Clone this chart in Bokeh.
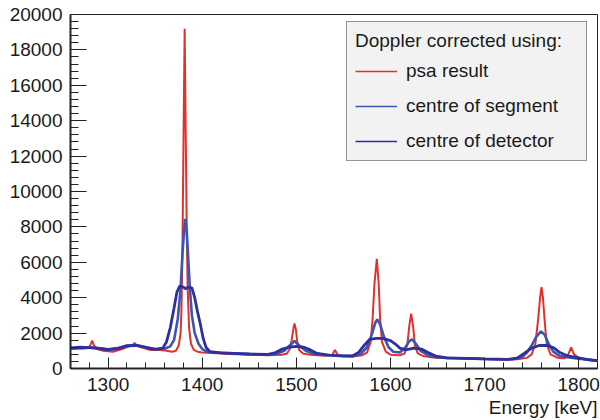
from bokeh.plotting import figure
from bokeh.models import Legend, LegendItem, Title, Range1d, SingleIntervalTicker
from bokeh.embed import file_html
from bokeh.resources import INLINE

# ---- data ----
psa_e = [1260, 1270, 1278, 1281, 1283, 1285, 1288, 1295, 1305, 1315, 1322, 1326, 1328, 1330, 1335,
         1345, 1355, 1362, 1368, 1372, 1375, 1377, 1378, 1379, 1380, 1381.3, 1382.5, 1383.5, 1384.5,
         1386, 1388, 1391, 1395, 1400, 1410, 1430, 1450, 1470, 1485, 1490, 1493, 1495, 1497, 1498,
         1499.5, 1501, 1503, 1507, 1515, 1530, 1538, 1541, 1544, 1550, 1560, 1570, 1575, 1579, 1581,
         1583, 1585.5, 1587.5, 1589, 1591, 1595, 1600, 1610, 1615, 1618, 1620, 1622, 1624, 1626, 1629,
         1635, 1645, 1660, 1670, 1675, 1690, 1700, 1720, 1735, 1745, 1750, 1754, 1757, 1759, 1760.5,
         1762, 1764, 1766, 1770, 1778, 1785, 1789, 1792, 1795, 1800, 1810, 1820]
psa_c = [1100, 1120, 1150, 1300, 1580, 1300, 1100, 1000, 950, 1100, 1250, 1300, 1450, 1280, 1200,
         1050, 1050, 1000, 950, 1000, 1300, 2000, 3500, 7000, 12500, 19200, 13000, 8000, 4500,
         2300, 1400, 1050, 950, 900, 870, 820, 780, 750, 780, 850, 1100, 1600, 2300, 2550,
         2200, 1500, 1050, 850, 780, 720, 760, 1050, 760, 700, 680, 750, 900, 1500, 2800,
         4800, 6200, 4800, 2800, 1500, 950, 780, 750, 850, 1400, 2400, 3100, 2400, 1300, 850,
         700, 620, 580, 600, 560, 590, 530, 500, 520, 600, 800, 1400, 2800, 4000, 4600,
         4000, 2600, 1400, 800, 600, 580, 800, 1200, 800, 600, 480, 420]

seg_e = [1260, 1270, 1280, 1290, 1300, 1310, 1320, 1330, 1340, 1350, 1360, 1366, 1370, 1374, 1377,
         1379, 1381, 1382, 1383.5, 1385, 1387, 1389, 1392, 1396, 1400, 1405, 1415, 1440, 1470, 1480,
         1487, 1493, 1498, 1503, 1510, 1518, 1530, 1545, 1560, 1568, 1575, 1580, 1584, 1586, 1589,
         1593, 1598, 1603, 1610, 1616, 1620, 1623, 1627, 1632, 1640, 1650, 1670, 1700, 1730, 1740,
         1745, 1750, 1755, 1760, 1764, 1768, 1773, 1780, 1790, 1800, 1810, 1820]
seg_c = [1150, 1170, 1200, 1150, 1080, 1150, 1300, 1330, 1200, 1100, 1120, 1250, 1600, 2800, 4500,
         6500, 8000, 8450, 7800, 6300, 4400, 3000, 2000, 1400, 1100, 950, 900, 830, 780, 850,
         1000, 1300, 1550, 1300, 1000, 850, 760, 730, 700, 800, 1200, 1900, 2600, 2780, 2500,
         1800, 1200, 950, 900, 1200, 1550, 1650, 1400, 1000, 750, 620, 580, 540, 520, 650,
         900, 1300, 1800, 2100, 1900, 1400, 950, 700, 620, 550, 500, 430]

det_e = [1260, 1270, 1280, 1290, 1300, 1310, 1320, 1330, 1340, 1350, 1358, 1362, 1366, 1370, 1373,
         1376, 1380, 1382, 1385, 1389, 1392, 1395, 1398, 1401, 1404, 1408, 1420, 1450, 1470, 1478,
         1485, 1492, 1500, 1508, 1515, 1522, 1535, 1550, 1560, 1566, 1572, 1578, 1585, 1592, 1600,
         1606, 1610, 1616, 1625, 1633, 1640, 1648, 1660, 1700, 1725, 1735, 1742, 1750, 1758, 1767,
         1774, 1780, 1788, 1800, 1810, 1820]
det_c = [1150, 1200, 1180, 1130, 1060, 1120, 1280, 1300, 1200, 1080, 1150, 1500, 2300, 3400, 4300,
         4650, 4600, 4500, 4600, 4550, 4000, 3200, 2500, 1700, 1200, 950, 880, 820, 800, 900,
         1100, 1200, 1250, 1200, 1050, 850, 750, 700, 720, 900, 1300, 1650, 1700, 1700, 1580,
         1350, 1150, 1050, 1150, 1100, 900, 700, 600, 540, 520, 600, 850, 1150, 1300, 1300,
         1150, 900, 720, 600, 500, 440]

series_labels = ["psa result", "centre of segment", "centre of detector"]
legend_title = "Doppler corrected using:"
x_label = "Energy [keV]"

RED = "#e2312b"
SEG = "#3b55b3"
DET = "#2f2f9d"
FONT = "Liberation Sans"

p = figure(width=600, height=420, output_backend="svg", toolbar_location=None,
           x_range=Range1d(1260, 1820), y_range=Range1d(0, 20000),
           min_border_left=70, min_border_right=3, min_border_top=14, min_border_bottom=52)
p.background_fill_color = "white"
p.border_fill_color = "white"
p.outline_line_color = "#222222"
p.outline_line_width = 1
p.xgrid.visible = False
p.ygrid.visible = False

r_psa = p.line(psa_e, psa_c, line_color=RED, line_width=2)
r_seg = p.line(seg_e, seg_c, line_color=SEG, line_width=2.6)
r_det = p.line(det_e, det_c, line_color=DET, line_width=2.8)

# thin legend proxies: a single-point line draws nothing in the plot
l_psa = p.line(psa_e[:1], psa_c[:1], line_color=RED, line_width=1.6)
l_seg = p.line(seg_e[:1], seg_c[:1], line_color=SEG, line_width=1.6)
l_det = p.line(det_e[:1], det_c[:1], line_color=DET, line_width=1.6)

for ax in (p.xaxis[0], p.yaxis[0]):
    ax.axis_line_color = "#222222"
    ax.axis_line_width = 2
    ax.major_tick_line_color = "#222222"
    ax.minor_tick_line_color = "#222222"
    ax.major_tick_out = 0
    ax.minor_tick_out = 0
    ax.major_label_text_font = FONT
    ax.major_label_text_font_size = "19px"
    ax.major_label_text_color = "#1a1a1a"

p.yaxis[0].ticker = SingleIntervalTicker(interval=2000, num_minor_ticks=5)
p.xaxis[0].ticker = SingleIntervalTicker(interval=100, num_minor_ticks=5)
p.yaxis[0].major_tick_in = 16
p.yaxis[0].minor_tick_in = 8
p.xaxis[0].major_tick_in = 11
p.xaxis[0].minor_tick_in = 6
p.yaxis[0].major_label_standoff = 8
p.xaxis[0].major_label_standoff = 9

p.add_layout(Title(text=x_label, align="right", text_font=FONT, text_font_size="19px",
                   text_font_style="normal", text_color="#1a1a1a", standoff=2), "below")

legend = Legend(items=[LegendItem(label=series_labels[0], renderers=[l_psa]),
                       LegendItem(label=series_labels[1], renderers=[l_seg]),
                       LegendItem(label=series_labels[2], renderers=[l_det])],
                title=legend_title, location=(276, 207),
                background_fill_color="#f2f2f2", background_fill_alpha=1,
                border_line_color="#333333", border_line_width=1,
                label_text_font=FONT, label_text_font_size="19px", label_text_color="#1a1a1a",
                title_text_font=FONT, title_text_font_size="19px", title_text_font_style="normal",
                title_text_color="#1a1a1a", title_standoff=8,
                glyph_width=42, label_standoff=9, label_width=172,
                spacing=13, padding=8, margin=0)
p.add_layout(legend, "center")

open("out.html", "w").write(file_html(p, INLINE))
